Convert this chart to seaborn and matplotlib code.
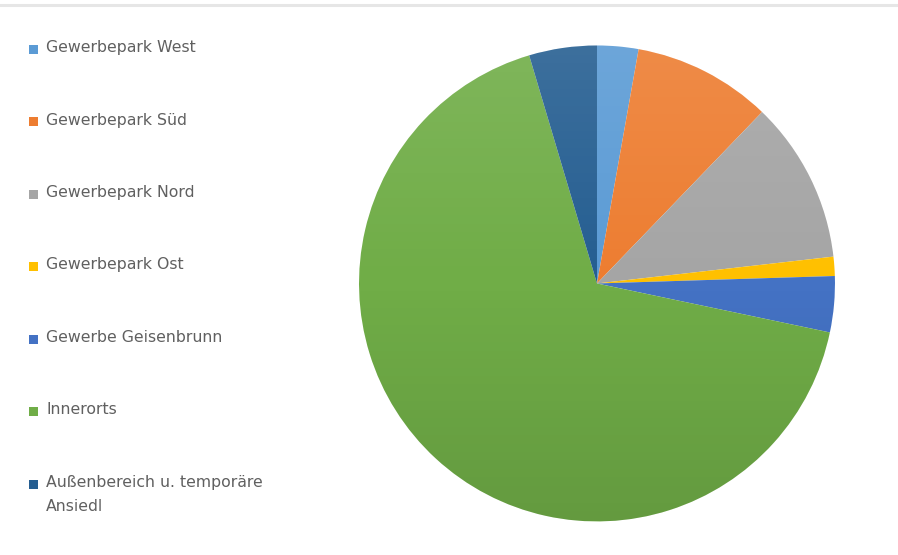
import matplotlib
matplotlib.use("Agg")
import matplotlib.pyplot as plt
import numpy as np
import seaborn as sns
from matplotlib.lines import Line2D
from matplotlib.patches import Circle, Rectangle

# ── Data (shares, in %) ───────────────────────────────────────────────────────
areas = [
    "Gewerbepark West",
    "Gewerbepark Süd",
    "Gewerbepark Nord",
    "Gewerbepark Ost",
    "Gewerbe Geisenbrunn",
    "Innerorts",
    "Außenbereich u. temporäre\nAnsiedl",
]
shares = [2.8, 9.4, 11.0, 1.3, 3.8, 67.1, 4.6]
colors = ["#5B9BD5", "#ED7D31", "#A5A5A5", "#FFC000", "#4472C4", "#70AD47", "#255E91"]

sns.set_theme(style="white")
plt.rcParams["font.family"] = ["DejaVu Sans"]
palette = sns.color_palette(colors)

W, H = 898, 555
fig = plt.figure(figsize=(W / 100, H / 100), dpi=100)

# ── Pie: centre ~(597, 283) px, radius ~238 px ───────────────────────────────
ax = fig.add_axes([0.3998, 0.0604, 0.530, 0.8577])
wedges, _ = ax.pie(shares, colors=palette, startangle=90, counterclock=False,
                   wedgeprops=dict(linewidth=0))

# soft light-to-dark vertical shading like the office gradient fill
grad = np.zeros((256, 2, 4))
t = np.linspace(0, 1, 256)[:, None]
grad[..., :3] = np.where(t[..., None] < 0.5, 1.0, 0.0)
grad[..., 3] = np.abs(t - 0.5) * 0.22
shade = ax.imshow(grad, extent=(-1, 1, -1, 1), origin="upper", aspect="auto",
                  zorder=3, interpolation="bilinear")
shade.set_clip_path(Circle((0, 0), 1, transform=ax.transData))

ax.set_xlim(-1, 1)
ax.set_ylim(-1, 1)
ax.set_aspect("equal")
ax.axis("off")

# thin grey rule along the top edge
fig.add_artist(Line2D([0, 1], [0.991, 0.991], color="#e6e6e6", linewidth=2.2,
                      transform=fig.transFigure))

# ── Legend on the left ───────────────────────────────────────────────────────
row0, pitch = 49, 72.5
for i, (name, c) in enumerate(zip(areas, palette)):
    y = row0 + pitch * i
    fig.add_artist(Rectangle((29 / W, 1 - (y + 4.5) / H), 9 / W, 9 / H,
                             facecolor=c, edgecolor="none",
                             transform=fig.transFigure))
    fig.text(46 / W, 1 - (y - 9) / H, name, ha="left", va="top",
             fontsize=11.3, color="#606060", linespacing=1.72)

fig.savefig("out.png", dpi=100, facecolor="white")
